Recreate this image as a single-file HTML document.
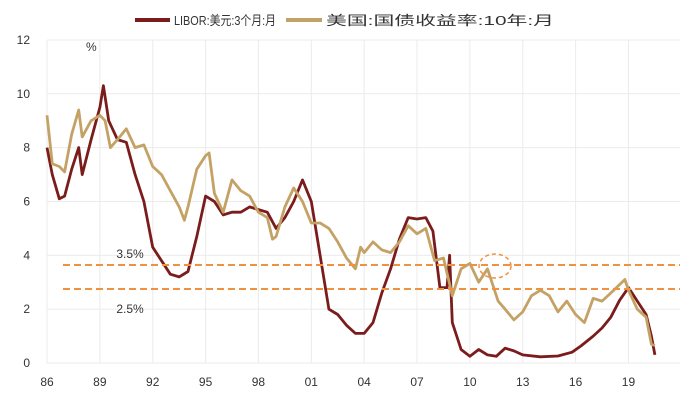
<!DOCTYPE html>
<html><head><meta charset="utf-8"><style>
body{margin:0;background:#fff;}
svg text{font-family:"Liberation Sans","Noto Sans CJK SC",sans-serif;}
</style></head><body>
<svg id="chart" width="699" height="409" xmlns="http://www.w3.org/2000/svg">
<g id="grid"></g>
<g id="axes"></g>
<g id="series"></g>
<g id="legend">
<line x1="135" y1="20" x2="170" y2="20" stroke="#7b1c1c" stroke-width="4"/>
<text x="174" y="25" font-size="13" fill="#333" textLength="102" lengthAdjust="spacingAndGlyphs">LIBOR:美元:3个月:月</text>
<line x1="286" y1="20" x2="322" y2="20" stroke="#c4a266" stroke-width="4"/>
<text x="326" y="25" font-size="13" fill="#333" textLength="228" lengthAdjust="spacingAndGlyphs">美国:国债收益率:10年:月</text>
</g>
<text x="86" y="51" font-size="12" fill="#333">%</text>
</svg>
<script>
const xTicks=[1986,1989,1992,1995,1998,2001,2004,2007,2010,2013,2016,2019];
const xTickLabels=["86","89","92","95","98","01","04","07","10","13","16","19"];
const yTicks=[0,2,4,6,8,10,12];
const liborYears=[1986.0,1986.3,1986.7,1987.0,1987.4,1987.8,1988.0,1988.5,1989.0,1989.2,1989.5,1990.0,1990.5,1991.0,1991.5,1992.0,1992.5,1993.0,1993.5,1994.0,1994.5,1995.0,1995.5,1996.0,1996.5,1997.0,1997.5,1998.0,1998.5,1999.0,1999.5,2000.0,2000.5,2001.0,2001.5,2002.0,2002.5,2003.0,2003.5,2004.0,2004.5,2005.0,2005.5,2006.0,2006.5,2007.0,2007.5,2007.9,2008.3,2008.7,2008.85,2009.0,2009.5,2010.0,2010.5,2011.0,2011.5,2012.0,2012.5,2013.0,2014.0,2015.0,2015.8,2016.3,2017.0,2017.5,2018.0,2018.5,2019.0,2019.5,2020.0,2020.3,2020.5];
const liborValues=[8.0,7.0,6.1,6.2,7.2,8.0,7.0,8.3,9.5,10.3,9.0,8.3,8.2,7.0,6.0,4.3,3.8,3.3,3.2,3.4,4.7,6.2,6.0,5.5,5.6,5.6,5.8,5.7,5.6,5.0,5.4,6.0,6.8,6.0,4.0,2.0,1.8,1.4,1.1,1.1,1.5,2.6,3.5,4.6,5.4,5.35,5.4,4.9,2.8,2.8,4.0,1.5,0.5,0.25,0.5,0.3,0.25,0.55,0.45,0.3,0.23,0.26,0.4,0.63,1.0,1.3,1.7,2.33,2.8,2.3,1.8,1.0,0.3];
const tsyYears=[1986.0,1986.3,1986.7,1987.0,1987.4,1987.8,1988.0,1988.5,1989.0,1989.3,1989.6,1990.0,1990.5,1991.0,1991.5,1992.0,1992.5,1993.0,1993.5,1993.8,1994.0,1994.5,1995.0,1995.2,1995.5,1996.0,1996.5,1997.0,1997.5,1998.0,1998.5,1998.8,1999.0,1999.5,2000.0,2000.5,2001.0,2001.5,2002.0,2002.5,2003.0,2003.5,2003.8,2004.0,2004.5,2005.0,2005.5,2006.0,2006.5,2007.0,2007.5,2008.0,2008.5,2009.0,2009.5,2010.0,2010.5,2011.0,2011.6,2012.0,2012.5,2013.0,2013.5,2014.0,2014.5,2015.0,2015.5,2016.0,2016.5,2017.0,2017.5,2018.0,2018.8,2019.0,2019.5,2020.0,2020.3,2020.5];
const tsyValues=[9.2,7.4,7.3,7.1,8.5,9.4,8.4,9.0,9.2,9.0,8.0,8.3,8.7,8.0,8.1,7.3,7.0,6.4,5.8,5.3,5.8,7.2,7.7,7.8,6.3,5.6,6.8,6.4,6.2,5.6,5.4,4.6,4.7,5.8,6.5,6.0,5.2,5.2,5.0,4.5,3.9,3.5,4.3,4.1,4.5,4.2,4.1,4.5,5.1,4.8,5.0,3.8,3.9,2.5,3.5,3.7,3.0,3.5,2.3,2.0,1.6,1.9,2.5,2.7,2.5,1.9,2.3,1.8,1.5,2.4,2.3,2.6,3.1,2.7,2.0,1.7,0.7,0.65];
const refLevels=[3.64,2.75];
const refLabels=["3.5%","2.5%"];
const NS="http://www.w3.org/2000/svg";
const X0=47,PXY=17.62,Y0=363,PXV=26.92;
function xs(t){return X0+(t-1986)*PXY;}
function ys(v){return Y0-v*PXV;}
function mk(tag,attrs,parent){const e=document.createElementNS(NS,tag);for(const k in attrs)e.setAttribute(k,attrs[k]);parent.appendChild(e);return e;}
const grid=document.getElementById('grid'),axes=document.getElementById('axes'),series=document.getElementById('series');
yTicks.forEach(v=>{
 const l=mk('line',{x1:47,x2:680,y1:ys(v),y2:ys(v),stroke:'#ebebeb','stroke-width':1},grid);
 
 
 const t=mk('text',{x:30,y:ys(v)+4,'text-anchor':'end','font-size':12,fill:'#333'},axes);
 t.textContent=String(v);
 
 
});
xTicks.forEach((yr,i)=>{
 const l=mk('line',{x1:xs(yr),x2:xs(yr),y1:40,y2:363,stroke:'#ebebeb','stroke-width':1},grid);
 
 
 const t=mk('text',{x:xs(yr),y:386,'text-anchor':'middle','font-size':12,fill:'#333'},axes);
 t.textContent=xTickLabels[i];
 
 
});
function path(xsArr,vs){return xsArr.map((t,i)=>(i?'L':'M')+xs(t).toFixed(1)+','+ys(vs[i]).toFixed(1)).join('');}
const p1=mk('path',{d:path(liborYears,liborValues),fill:'none',stroke:'#7b1c1c','stroke-width':2.8,'stroke-linejoin':'round'},series);


const p2=mk('path',{d:path(tsyYears,tsyValues),fill:'none',stroke:'#c4a266','stroke-width':2.8,'stroke-linejoin':'round'},series);


refLevels.forEach((v,i)=>{
 const l=mk('line',{x1:63,x2:680,y1:ys(v),y2:ys(v),stroke:'#f0913f','stroke-width':2,'stroke-dasharray':'7,4'},series);
 
 
 const t=mk('text',{x:130,y:i===0?ys(v)-7:ys(v)+24,'text-anchor':'middle','font-size':12,fill:'#333'},series);
 t.textContent=refLabels[i];
 
 
});
const c=mk('ellipse',{cx:495,cy:266,rx:16,ry:12,fill:'none',stroke:'#f0913f','stroke-width':1.5,'stroke-dasharray':'4,3'},series);


</script>
</body></html>
